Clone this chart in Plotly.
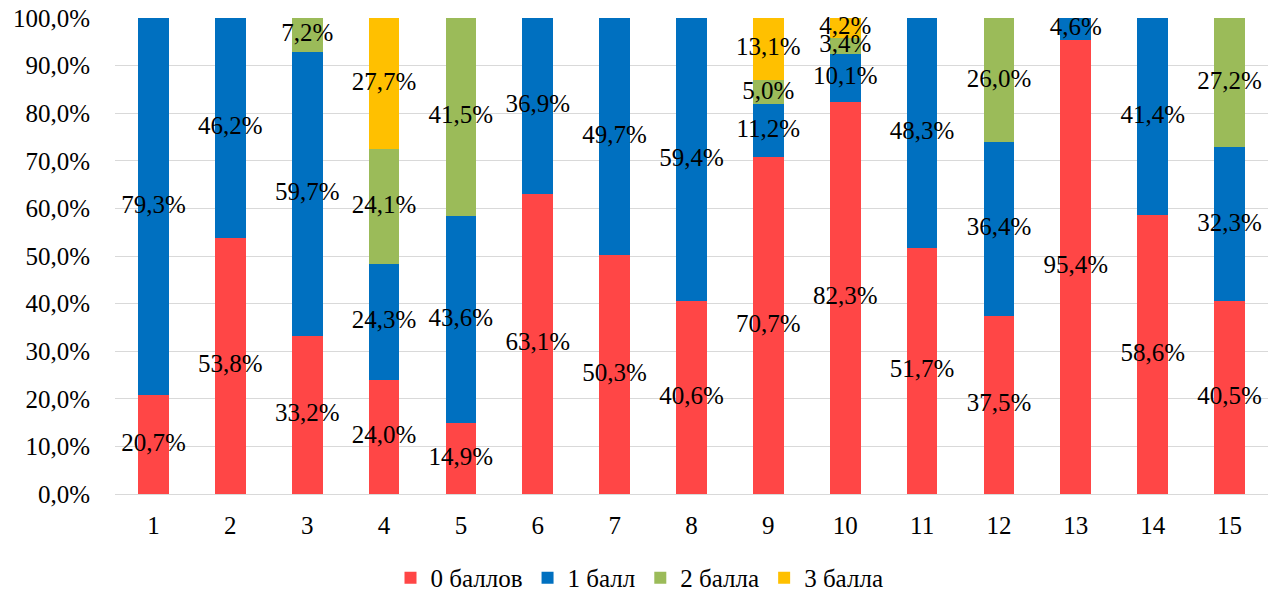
import plotly.graph_objects as go

categories = [str(i) for i in range(1, 16)]

score_0 = [20.7, 53.8, 33.2, 24.0, 14.9, 63.1, 50.3, 40.6, 70.7, 82.3, 51.7, 37.5, 95.4, 58.6, 40.5]
score_1 = [79.3, 46.2, 59.7, 24.3, 43.6, 36.9, 49.7, 59.4, 11.2, 10.1, 48.3, 36.4, 4.6, 41.4, 32.3]
score_2 = [None, None, 7.2, 24.1, 41.5, None, None, None, 5.0, 3.4, None, 26.0, None, None, 27.2]
score_3 = [None, None, None, 27.7, None, None, None, None, 13.1, 4.2, None, None, None, None, None]

series_names = ["0 баллов", "1 балл", "2 балла", "3 балла"]
series_values = [score_0, score_1, score_2, score_3]
series_colors = ["#FF4646", "#0070C0", "#9BBB59", "#FFC000"]

FONT = "'Liberation Serif', 'Times New Roman', serif"


def fmt(v):
    return f"{v:.1f}".replace(".", ",") + "%"


fig = go.Figure()
for name, vals, color in zip(series_names, series_values, series_colors):
    fig.add_trace(go.Bar(
        x=categories,
        y=vals,
        name=name,
        marker=dict(color=color, line=dict(width=0)),
        hoverinfo="skip",
    ))

# value labels at the middle of each stacked segment
base = [0.0] * len(categories)
lx, ly, lt = [], [], []
for vals in series_values:
    for i, v in enumerate(vals):
        if v is None:
            continue
        lx.append(categories[i])
        ly.append(base[i] + v / 2)
        lt.append(fmt(v))
        base[i] += v

fig.add_trace(go.Scatter(
    x=lx,
    y=ly,
    mode="text",
    text=lt,
    textposition="middle center",
    textfont=dict(family=FONT, size=25, color="black"),
    showlegend=False,
    cliponaxis=False,
    hoverinfo="skip",
))

fig.update_layout(
    barmode="stack",
    bargap=0.6,
    width=1279,
    height=591,
    margin=dict(l=115, r=11, t=18, b=97, autoexpand=False),
    plot_bgcolor="white",
    paper_bgcolor="white",
    font=dict(family=FONT, size=25, color="black"),
    showlegend=True,
    legend=dict(
        orientation="h",
        xref="container",
        x=0.5,
        xanchor="center",
        yref="container",
        y=0.022,
        yanchor="middle",
        font=dict(family=FONT, size=25, color="black"),
        itemwidth=30,
        traceorder="normal",
    ),
    xaxis=dict(
        type="category",
        range=[-0.5, len(categories) - 0.5],
        showgrid=False,
        showline=False,
        ticks="",
        tickfont=dict(family=FONT, size=25),
        ticklabelstandoff=14,
    ),
    yaxis=dict(
        range=[0, 100],
        tickvals=[i * 10 for i in range(11)],
        ticktext=[f"{i * 10},0%" for i in range(11)],
        showgrid=True,
        gridcolor="#D9D9D9",
        gridwidth=1,
        zeroline=True,
        zerolinecolor="#D9D9D9",
        zerolinewidth=1,
        tickfont=dict(family=FONT, size=25),
        ticks="",
        ticklabelstandoff=24,
    ),
)

fig.write_html("out.html")
